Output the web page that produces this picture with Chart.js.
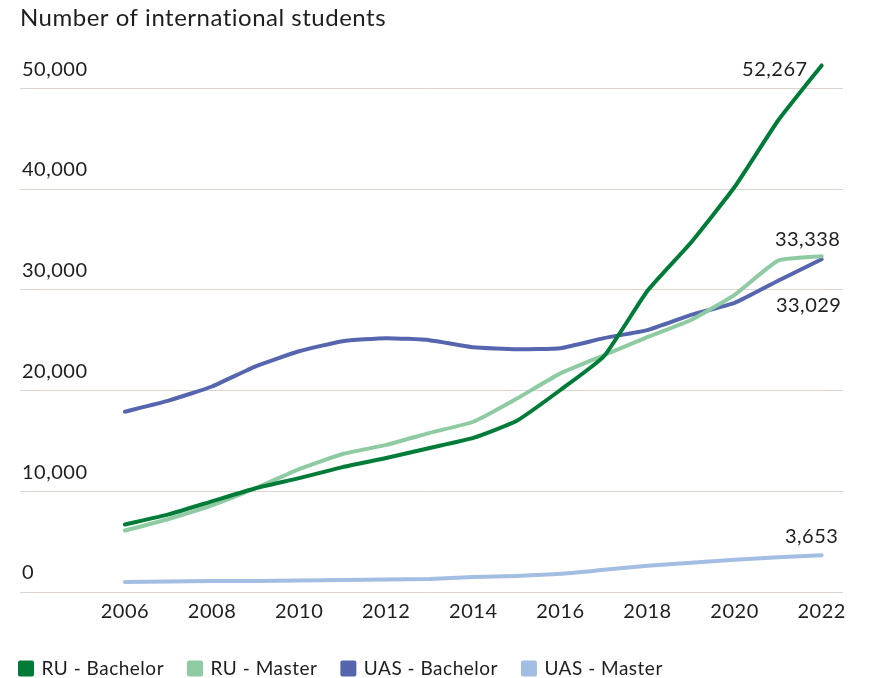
<!DOCTYPE html>
<html>
<head>
<meta charset="utf-8">
<title>Number of international students</title>
<script src="https://cdn.jsdelivr.net/npm/chart.js@4.4.1/dist/chart.umd.min.js"></script>
<style>
  html, body { margin: 0; padding: 0; background: #ffffff; }
  #wrap { width: 869px; height: 678px; position: relative; }
</style>
</head>
<body>
<div id="wrap"><canvas id="chart"></canvas></div>
<script>
// Academic years
const years = [2006, 2007, 2008, 2009, 2010, 2011, 2012, 2013, 2014, 2015, 2016, 2017, 2018, 2019, 2020, 2021, 2022];

// International students per sector and level
const ruBachelor  = [6700, 7700, 9000, 10300, 11300, 12400, 13300, 14300, 15300, 17000, 20050, 23400, 29900, 34700, 40200, 46800, 52267];
const ruMaster    = [6100, 7250, 8600, 10300, 12200, 13700, 14600, 15800, 16900, 19200, 21700, 23500, 25300, 27000, 29500, 32900, 33338];
const uasBachelor = [17900, 19000, 20400, 22400, 23900, 24900, 25200, 25000, 24300, 24100, 24200, 25200, 26000, 27500, 28700, 30900, 33029];
const uasMaster   = [1000, 1050, 1100, 1100, 1150, 1200, 1250, 1300, 1500, 1600, 1800, 2200, 2600, 2900, 3200, 3450, 3653];

const seriesNames = ['RU - Bachelor', 'RU - Master', 'UAS - Bachelor', 'UAS - Master'];
const seriesColors = ['#007c38', '#8fcba2', '#5565ae', '#a3bde3'];

// Axis ticks
const xTicks = [2006, 2008, 2010, 2012, 2014, 2016, 2018, 2020, 2022];
const yTicks = [0, 10000, 20000, 30000, 40000, 50000];

const FONT = 'Lato, "Open Sans", sans-serif';
const TEXT = '#1e1e1e';

const allSeries = [ruBachelor, ruMaster, uasBachelor, uasMaster];
const datasets = allSeries.map((vals, i) => ({
  label: seriesNames[i],
  data: years.map((y, k) => ({ x: y, y: vals[k] })),
  borderColor: seriesColors[i],
  backgroundColor: seriesColors[i],
  borderWidth: 4,
  borderCapStyle: 'round',
  borderJoinStyle: 'round',
  pointRadius: 0,
  tension: 0.15,
  fill: false
}));

// Where the final value of each line is written, relative to its last point
const endLabelPlacement = [
  { dx: -14, dy: 4,  align: 'right' },
  { dx: -14, dy: -17, align: 'center' },
  { dx: -13, dy: 46, align: 'center' },
  { dx: -10, dy: -19, align: 'center' }
];

const endLabels = {
  id: 'endLabels',
  afterDatasetsDraw(chart) {
    const ctx = chart.ctx;
    ctx.save();
    ctx.font = '20px ' + FONT;
    ctx.fillStyle = TEXT;
    ctx.textBaseline = 'middle';
    chart.data.datasets.forEach((ds, i) => {
      const meta = chart.getDatasetMeta(i);
      const last = meta.data[meta.data.length - 1];
      const value = ds.data[ds.data.length - 1].y;
      const p = endLabelPlacement[i];
      ctx.textAlign = p.align;
      ctx.fillText(value.toLocaleString('en-US'), last.x + p.dx, last.y + p.dy);
    });
    ctx.restore();
  }
};

// Slightly open tracking for all canvas text
const tracking = {
  id: 'tracking',
  beforeUpdate(chart) { chart.ctx.letterSpacing = '0.5px'; },
  beforeDraw(chart) { chart.ctx.letterSpacing = '0.5px'; }
};

// Legend sits flush with the left edge of the plot
const legendNudge = {
  id: 'legendNudge',
  afterLayout(chart) {
    const lg = chart.legend;
    if (!lg) return;
    const shiftX = (20 - lg.options.labels.padding) - lg.left;
    lg.left += shiftX; lg.right += shiftX;
    lg.top += 2; lg.bottom += 2;
  }
};

new Chart(document.getElementById('chart'), {
  type: 'line',
  data: { datasets },
  plugins: [tracking, endLabels, legendNudge],
  options: {
    responsive: true,
    maintainAspectRatio: false,
    animation: false,
    devicePixelRatio: 1,
    layout: { padding: { top: 0, right: 26, bottom: -8, left: 20 } },
    scales: {
      x: {
        type: 'linear',
        min: 2003.59,
        max: 2022.49,
        afterBuildTicks(scale) { scale.ticks = xTicks.map(v => ({ value: v })); },
        grid: { display: false, drawTicks: false },
        border: { display: false },
        ticks: {
          padding: 8,
          color: TEXT,
          font: { family: FONT, size: 20 },
          maxRotation: 0,
          autoSkip: false,
          callback: v => String(v)
        }
      },
      y: {
        min: 0,
        max: 54000,
        afterBuildTicks(scale) { scale.ticks = yTicks.map(v => ({ value: v })); },
        afterFit(scale) { scale.width = 0; },
        grid: { color: '#dcd4cf', lineWidth: 1, drawTicks: false },
        border: { display: false },
        ticks: {
          mirror: true,
          padding: 2,
          labelOffset: -19,
          color: TEXT,
          font: { family: FONT, size: 20 },
          callback: v => v.toLocaleString('en-US')
        }
      }
    },
    plugins: {
      title: {
        display: true,
        text: 'Number of international students',
        align: 'start',
        color: TEXT,
        font: { family: FONT, size: 24, weight: 'normal', lineHeight: 1.2 },
        padding: { top: 4, bottom: 15.2 }
      },
      legend: {
        position: 'bottom',
        align: 'start',
        labels: {
          boxWidth: 12,
          boxHeight: 12,
          padding: 25,
          color: TEXT,
          font: { family: FONT, size: 19 }
        }
      },
      tooltip: { enabled: false }
    }
  }
});
</script>
</body>
</html>
